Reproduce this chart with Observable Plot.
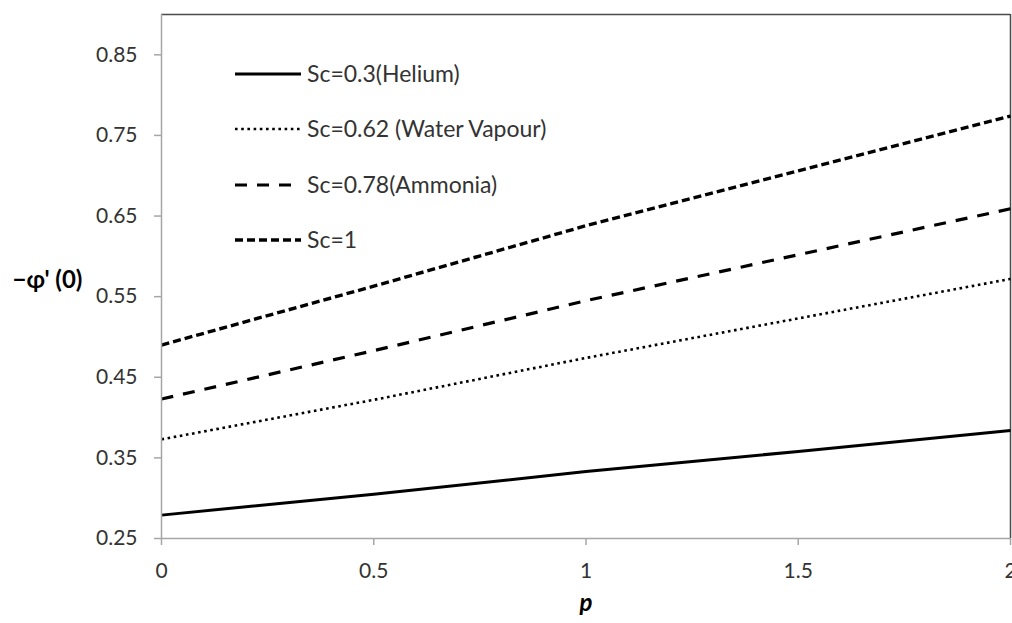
<!DOCTYPE html>
<html>
<head>
<meta charset="utf-8">
<script src="https://cdn.jsdelivr.net/npm/d3@7"></script>
<script src="https://cdn.jsdelivr.net/npm/@observablehq/plot@0.6"></script>
<style>
  html, body { margin: 0; padding: 0; background: #fff; overflow: hidden; }
  #chart { width: 1012px; height: 623px; }
</style>
</head>
<body>
<div id="chart"></div>
<script>
// Data
const pValues = [0, 0.5, 1, 1.5, 2];
const sc03 = [0.279, 0.305, 0.333, 0.358, 0.384];
const sc062 = [0.373, 0.422, 0.474, 0.523, 0.572];
const sc078 = [0.423, 0.483, 0.545, 0.602, 0.659];
const sc1 = [0.490, 0.563, 0.638, 0.706, 0.774];
const seriesNames = ["Sc=0.3(Helium)", "Sc=0.62 (Water Vapour)", "Sc=0.78(Ammonia)", "Sc=1"];
const xTicks = [0, 0.5, 1, 1.5, 2];
const yTicks = [0.25, 0.35, 0.45, 0.55, 0.65, 0.75, 0.85];

const seriesValues = [sc03, sc062, sc078, sc1];
const styles = [
  {strokeWidth: 3, dash: null},
  {strokeWidth: 2.6, dash: "2.6,3.6"},
  {strokeWidth: 3.2, dash: "12,10"},
  {strokeWidth: 3.4, dash: "8,4"}
];

const rows = [];
seriesValues.forEach((vals, i) => vals.forEach((v, j) => rows.push({p: pValues[j], v, s: seriesNames[i]})));

const lineMarks = seriesNames.map((name, i) =>
  Plot.line(rows.filter(d => d.s === name), {
    x: "p", y: "v", stroke: "#000", strokeWidth: styles[i].strokeWidth,
    strokeDasharray: styles[i].dash, strokeLinecap: "butt"
  })
);

const chart = Plot.plot({
  width: 1012,
  height: 623,
  marginLeft: 161,
  marginRight: 2,
  marginTop: 14,
  marginBottom: 85,
  style: {fontFamily: "Lato, 'Open Sans', sans-serif", fontSize: "21px", color: "#404040", background: "#fff"},
  x: {domain: [0, 2], label: null},
  y: {domain: [0.25, 0.9], label: null},
  marks: [
    Plot.ruleY([0.9], {stroke: "#4a4a4a", strokeWidth: 1.5}),
    Plot.ruleX([2], {stroke: "#4a4a4a", strokeWidth: 1.5}),
    ...lineMarks,
    Plot.ruleX([0], {stroke: "#a6a6a6", strokeWidth: 1.5}),
    Plot.ruleY([0.25], {stroke: "#a6a6a6", strokeWidth: 1.5}),
    Plot.axisY({ticks: yTicks, text: null, tickSize: 7, stroke: "#a6a6a6", strokeWidth: 1.5}),
    Plot.axisY({ticks: yTicks, tickSize: 0, tickPadding: 24, tickFormat: d => d.toFixed(2), fill: "#333", fontSize: 21}),
    Plot.axisX({ticks: xTicks, text: null, tickSize: 7, stroke: "#a6a6a6", strokeWidth: 1.5}),
    Plot.axisX({ticks: xTicks, tickSize: 0, tickPadding: 25, tickFormat: d => String(d), fill: "#333", fontSize: 21}),
    Plot.text(["−φ' (0)"], {frameAnchor: "left", dx: -149, dy: 4, textAnchor: "start", fontWeight: "bold", fontSize: 24, fill: "#000"}),
    Plot.text(["p"], {frameAnchor: "bottom", dy: 72, fontWeight: "bold", fontStyle: "italic", fontSize: 24, fill: "#000"})
  ]
});

document.getElementById("chart").appendChild(chart);

// Legend (inside plot area, top-left)
const svg = d3.select(chart);
const leg = svg.append("g")
  .attr("font-family", "Lato, 'Open Sans', sans-serif")
  .attr("font-size", 23)
  .attr("text-anchor", "start");
const legY = [74, 129, 185, 240];
seriesNames.forEach((name, i) => {
  leg.append("line")
    .attr("x1", 235).attr("x2", 301).attr("y1", legY[i]).attr("y2", legY[i])
    .attr("stroke", "#000").attr("stroke-width", styles[i].strokeWidth)
    .attr("stroke-dasharray", styles[i].dash);
  leg.append("text")
    .attr("x", 307).attr("y", legY[i]).attr("dy", "0.35em")
    .attr("text-anchor", "start")
    .attr("fill", "#333").text(name);
});
</script>
</body>
</html>
